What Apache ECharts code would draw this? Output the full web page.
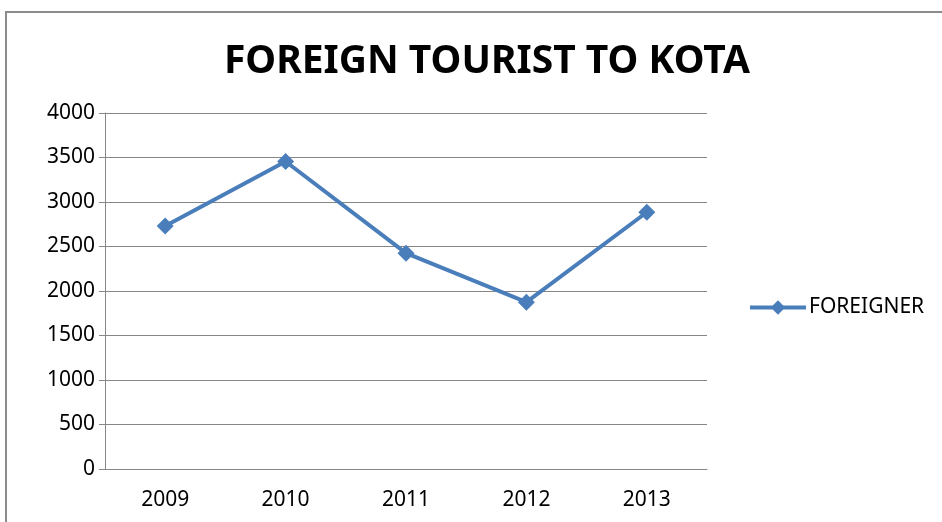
<!DOCTYPE html>
<html>
<head>
<meta charset="utf-8">
<script src="https://cdn.jsdelivr.net/npm/echarts@6/dist/echarts.min.js"></script>
<style>
  html, body { margin: 0; padding: 0; background: #fff; }
  #chart { width: 942px; height: 522px; }
</style>
</head>
<body>
<div id="chart"></div>
<script>
// chart data
var years = ["2009", "2010", "2011", "2012", "2013"];
var foreigner = [2730, 3455, 2425, 1875, 2885];
var yTicks = [0, 500, 1000, 1500, 2000, 2500, 3000, 3500, 4000];

var font = "'Noto Sans', sans-serif";
var blue = "#4a7ebb";

var myChart = echarts.init(document.getElementById("chart"));
var option = {
  animation: false,
  title: {
    text: "FOREIGN TOURIST TO KOTA",
    left: 482,
    textAlign: "center",
    top: 37,
    textStyle: { fontFamily: font, fontSize: 39, fontWeight: "bold", color: "#000" },
  },
  graphic: [
    {
      type: "rect",
      shape: { x: 6, y: 12, width: 960, height: 540 },
      style: { fill: "none", stroke: "#8c8c8c", lineWidth: 2 },
      silent: true,
    },
  ],
  legend: {
    data: ["FOREIGNER"],
    left: 743,
    top: 292,
    itemWidth: 56,
    itemHeight: 18,
    itemGap: 4,
    lineStyle: { width: 4 },
    textStyle: { fontFamily: font, fontSize: 21, color: "#000", padding: [0, 0, 0, -2] },
  },
  grid: { left: 105, right: 235, top: 113, bottom: 53 },
  xAxis: {
    type: "category",
    data: years,
    boundaryGap: true,
    axisLine: { lineStyle: { color: "#868686" } },
    axisTick: { length: 6, lineStyle: { color: "#868686" } },
    axisLabel: { fontFamily: font, fontSize: 21, color: "#000", margin: 21 },
  },
  yAxis: {
    type: "value",
    min: yTicks[0],
    max: yTicks[yTicks.length - 1],
    interval: 500,
    axisLine: { show: true, lineStyle: { color: "#868686" } },
    axisTick: { show: true, length: 6, lineStyle: { color: "#868686" } },
    axisLabel: {
      fontFamily: font,
      fontSize: 21,
      color: "#000",
      margin: 10,
      formatter: function (v) {
        return String(v);
      },
    },
    splitLine: { lineStyle: { color: "#868686" } },
  },
  series: [
    {
      name: "FOREIGNER",
      type: "line",
      data: foreigner,
      symbol: "diamond",
      symbolSize: 17,
      lineStyle: { width: 4, color: blue },
      itemStyle: { color: blue },
    },
  ],
};
myChart.setOption(option);
</script>
</body>
</html>
